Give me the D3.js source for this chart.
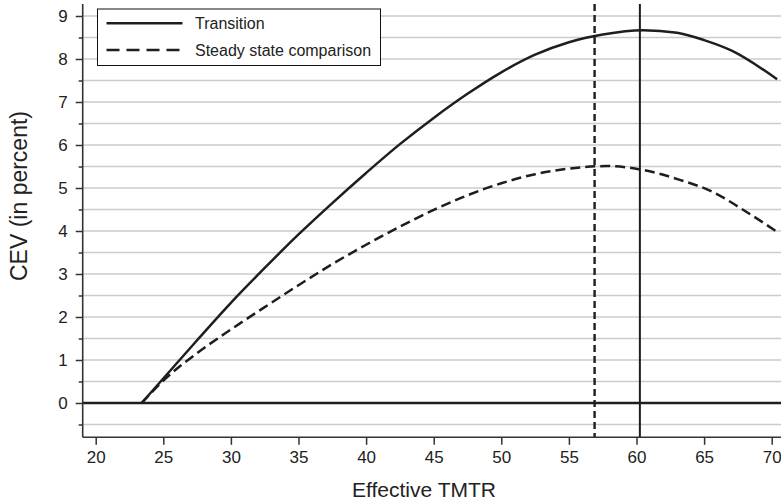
<!DOCTYPE html>
<html><head><meta charset="utf-8">
<script src="https://cdn.jsdelivr.net/npm/d3@7"></script>
<style>
html,body{margin:0;padding:0;background:#fff;}
svg{display:block;font-family:"Liberation Sans",Arial,Helvetica,sans-serif;}
</style></head>
<body>
<svg id="chart" width="781" height="504"></svg>
<script>
(function(){
// ---- data ----
const transitionX = [23.4, 25.0, 27.5, 30.0, 32.5, 35.0, 37.5, 40.0, 42.5, 45.0, 47.5, 50.0, 52.5, 55.0, 57.5, 60.5, 63.0, 65.0, 67.0, 70.4];
const transitionY = [0, 0.57, 1.46, 2.33, 3.14, 3.92, 4.65, 5.35, 6.02, 6.63, 7.19, 7.69, 8.10, 8.39, 8.57, 8.67, 8.61, 8.44, 8.20, 7.53];
const steadyX = [23.4, 25.0, 27.5, 30.0, 32.5, 35.0, 37.5, 40.0, 42.5, 45.0, 47.5, 50.0, 52.5, 55.0, 57.8, 60.3, 63.2, 65.7, 67.7, 70.4];
const steadyY = [0, 0.52, 1.16, 1.71, 2.23, 2.74, 3.23, 3.68, 4.10, 4.49, 4.83, 5.11, 5.32, 5.45, 5.51, 5.43, 5.19, 4.90, 4.53, 3.98];
const xTicks = [20, 25, 30, 35, 40, 45, 50, 55, 60, 65, 70];
const yTicks = [0, 1, 2, 3, 4, 5, 6, 7, 8, 9];
const yMinorTicks = [-0.5, 0.5, 1.5, 2.5, 3.5, 4.5, 5.5, 6.5, 7.5, 8.5];
const optimumTransition = 60.25;
const optimumSteady = 56.9;
const legendLabels = ["Transition", "Steady state comparison"];
const xTitle = "Effective TMTR";
const yTitle = "CEV (in percent)";

// ---- layout ----
const W = 781, H = 504;
const pLeft = 82.7, pTop = 4, pBottom = 437.3, pRight = W;
const svg = d3.select("#chart");
const x = d3.scaleLinear().domain([20, 70]).range([95.7, 771.7]);
const y = d3.scaleLinear().domain([0, 9]).range([403, 16]);
const ink = "#1e1e1e";

// gridlines
const gridVals = yTicks.concat(yMinorTicks).filter(v => v !== 0);
svg.append("g").selectAll("line").data(gridVals).join("line")
  .attr("x1", pLeft).attr("x2", pRight)
  .attr("y1", d => y(d)).attr("y2", d => y(d))
  .attr("stroke", "#cbcbcb").attr("stroke-width", 1.5);

// zero line
svg.append("line").attr("x1", pLeft).attr("x2", pRight)
  .attr("y1", y(0)).attr("y2", y(0))
  .attr("stroke", ink).attr("stroke-width", 2.6);

// vertical optimum lines
svg.append("line").attr("x1", x(optimumSteady)).attr("x2", x(optimumSteady))
  .attr("y1", pTop).attr("y2", pBottom)
  .attr("stroke", ink).attr("stroke-width", 2.4).attr("stroke-dasharray", "7,4");
svg.append("line").attr("x1", x(optimumTransition)).attr("x2", x(optimumTransition))
  .attr("y1", pTop).attr("y2", pBottom)
  .attr("stroke", ink).attr("stroke-width", 2);

// curves
const line = d3.line().x(d => x(d[0])).y(d => y(d[1])).curve(d3.curveMonotoneX);
svg.append("path").datum(d3.zip(transitionX, transitionY))
  .attr("d", line).attr("fill", "none").attr("stroke", ink).attr("stroke-width", 2.5);
svg.append("path").datum(d3.zip(steadyX, steadyY))
  .attr("d", line).attr("fill", "none").attr("stroke", ink).attr("stroke-width", 2.5)
  .attr("stroke-dasharray", "10,5");

// y axis
const yAxis = d3.axisLeft(y).tickValues(yTicks).tickSize(7).tickPadding(8).tickFormat(d3.format("d"));
const gy = svg.append("g").attr("transform", `translate(${pLeft},0)`).call(yAxis);
gy.select(".domain").remove();
gy.selectAll(".tick line").attr("stroke", "#333").attr("stroke-width", 1.5);
gy.selectAll(".tick text").attr("font-size", 17).attr("fill", "#222")
  .attr("font-family", '"Liberation Sans",Arial,sans-serif');
const yMinor = d3.axisLeft(y).tickValues(yMinorTicks).tickSize(4).tickFormat("");
const gym = svg.append("g").attr("transform", `translate(${pLeft},0)`).call(yMinor);
gym.select(".domain").remove();
gym.selectAll(".tick line").attr("stroke", "#333").attr("stroke-width", 1.5);
svg.append("line").attr("x1", pLeft).attr("x2", pLeft).attr("y1", pTop).attr("y2", pBottom)
  .attr("stroke", "#333").attr("stroke-width", 1.6);

// x axis
const xAxis = d3.axisBottom(x).tickValues(xTicks).tickSize(7.5).tickPadding(6).tickFormat(d3.format("d"));
const gx = svg.append("g").attr("transform", `translate(0,${pBottom})`).call(xAxis);
gx.select(".domain").remove();
gx.selectAll(".tick line").attr("stroke", "#333").attr("stroke-width", 1.5);
gx.selectAll(".tick text").attr("font-size", 17).attr("fill", "#222")
  .attr("font-family", '"Liberation Sans",Arial,sans-serif');
svg.append("line").attr("x1", pLeft).attr("x2", pRight).attr("y1", pBottom).attr("y2", pBottom)
  .attr("stroke", "#333").attr("stroke-width", 1.6);

// axis titles
svg.append("text").attr("x", 424).attr("y", 497).attr("text-anchor", "middle")
  .attr("font-size", 21).attr("fill", "#222").text(xTitle);
svg.append("text").attr("transform", "translate(27,196) rotate(-90)").attr("text-anchor", "middle")
  .attr("font-size", 23).attr("fill", "#222").text(yTitle);

// legend
const lg = svg.append("g");
lg.append("rect").attr("x", 97.5).attr("y", 9).attr("width", 283).attr("height", 56.5)
  .attr("fill", "#fff").attr("stroke", "#111").attr("stroke-width", 1);
const lgY = [23.3, 50];
legendLabels.forEach((lab, i) => {
  lg.append("line").attr("x1", 106.5).attr("x2", 182.5).attr("y1", lgY[i]).attr("y2", lgY[i])
    .attr("stroke", ink).attr("stroke-width", 2.4)
    .attr("stroke-dasharray", i === 1 ? "13,7" : null);
  lg.append("text").attr("x", 195).attr("y", lgY[i] + 6).attr("font-size", 16)
    .attr("fill", "#222").text(lab);
});
})();
</script>
</body></html>
